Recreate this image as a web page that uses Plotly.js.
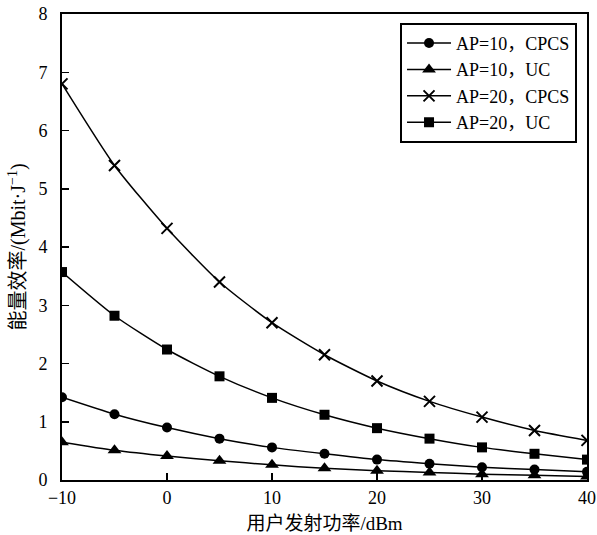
<!DOCTYPE html>
<html>
<head>
<meta charset="utf-8">
<script src="https://cdn.plot.ly/plotly-3.0.1.min.js"></script>
<style>html,body{margin:0;padding:0;background:#fff;}#chart{width:597px;height:535px;}</style>
</head>
<body>
<div id="chart"></div>
<script>
const xPower = [-10, -5, 0, 5, 10, 15, 20, 25, 30, 35, 40];
const ap10CPCS = [1.42, 1.13, 0.90, 0.71, 0.56, 0.45, 0.35, 0.28, 0.22, 0.18, 0.14];
const ap10UC   = [0.65, 0.51, 0.41, 0.33, 0.26, 0.20, 0.16, 0.13, 0.10, 0.08, 0.06];
const ap20CPCS = [6.80, 5.40, 4.32, 3.40, 2.70, 2.15, 1.70, 1.35, 1.08, 0.85, 0.68];
const ap20UC   = [3.57, 2.82, 2.24, 1.78, 1.41, 1.12, 0.89, 0.71, 0.56, 0.45, 0.35];
const seriesNames = ['AP=10，CPCS', 'AP=10，UC', 'AP=20，CPCS', 'AP=20，UC'];

const serif = 'Liberation Serif, Times New Roman, Noto Sans CJK SC, serif';
const cjk = 'Liberation Serif, Noto Sans CJK SC, serif';

function tr(y, name, symbol, size, lw) {
  return {
    x: xPower, y: y, name: name, type: 'scatter', mode: 'lines+markers',
    line: {color: '#000', width: 1.5, shape: 'spline', smoothing: 0.6},
    marker: {symbol: symbol, size: size, color: '#000', line: {color: '#000', width: lw}}
  };
}

const data = [
  tr(ap10CPCS, seriesNames[0], 'circle', 10, 0),
  tr(ap10UC, seriesNames[1], 'triangle-up', 12, 0),
  tr(ap20CPCS, seriesNames[2], 'x-thin-open', 11, 2),
  tr(ap20UC, seriesNames[3], 'square', 10, 0)
];

const layout = {
  width: 597, height: 535,
  margin: {l: 62, r: 10, t: 14, b: 55},
  paper_bgcolor: '#fff', plot_bgcolor: '#fff',
  showlegend: true,
  legend: {
    x: 0.981, y: 0.981, xanchor: 'right', yanchor: 'top',
    bgcolor: '#fff', bordercolor: '#000', borderwidth: 2,
    font: {family: cjk, size: 18, color: '#000'},
    tracegroupgap: 0, itemwidth: 44
  },
  xaxis: {
    range: [-10, 40], tickvals: [-10, 0, 10, 20, 30, 40],
    ticks: 'inside', ticklen: 7, tickwidth: 1.5, tickcolor: '#000',
    showgrid: false, zeroline: false, showline: true, linecolor: '#000', linewidth: 2, mirror: true,
    tickfont: {family: serif, size: 18, color: '#000'},
    title: {text: '用户发射功率/dBm', font: {family: cjk, size: 19, color: '#000'}, standoff: 10}
  },
  yaxis: {
    range: [0, 8], tickvals: [0, 1, 2, 3, 4, 5, 6, 7, 8],
    ticks: 'inside', ticklen: 7, tickwidth: 1.5, tickcolor: '#000', ticklabelstandoff: 9,
    showgrid: false, zeroline: false, showline: true, linecolor: '#000', linewidth: 2, mirror: true,
    tickfont: {family: serif, size: 18, color: '#000'},
    title: {text: '能量效率/(Mbit·J<sup>−1</sup>)', font: {family: cjk, size: 20, color: '#000'}, standoff: 7}
  }
};

Plotly.newPlot('chart', data, layout, {displayModeBar: false, staticPlot: true});
</script>
</body>
</html>
